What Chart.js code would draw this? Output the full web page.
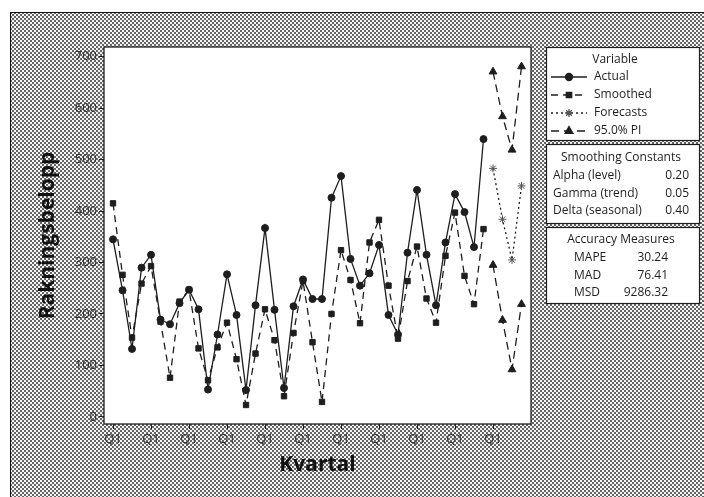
<!DOCTYPE html>
<html>
<head>
<meta charset="utf-8">
<script src="https://cdn.jsdelivr.net/npm/chart.js@4.4.0/dist/chart.umd.min.js"></script>
<style>
html, body { margin: 0; padding: 0; background: #fff; }
#wrap { position: relative; width: 704px; height: 497px; overflow: hidden; }
#frame {
    position: absolute; left: 10px; top: 12px; width: 720px; height: 510px;
    border-left: 1.5px solid #111; border-top: 1.5px solid #111;
    background-color: #f4f4f4;
    background-image: radial-gradient(circle, #4e4e4e 0.65px, transparent 1.05px),
                      radial-gradient(circle, #4e4e4e 0.65px, transparent 1.05px);
    background-size: 4px 4px;
    background-position: 0 0, 2px 2px;
}
canvas { position: absolute; left: 0; top: 0; }
</style>
</head>
<body>
<div id="wrap">
    <div id="frame"></div>
    <canvas id="chart" width="704" height="497"></canvas>
</div>
<script>
// quarterly data, starts at Q1
const actual = [345, 246, 132, 290, 315, 189, 180, 221, 247, 209, 53, 160, 277, 198, 52, 217, 367, 208, 56, 215,
                267, 229, 229, 426, 468, 307, 255, 279, 334, 198, 160, 319, 441, 315, 217, 339, 433, 398, 330, 540];
const smoothed = [415, 276, 154, 259, 293, 185, 76, 224, 247, 133, 71, 135, 183, 112, 23, 123, 209, 149, 40, 163,
                  264, 145, 29, 200, 324, 266, 182, 339, 383, 255, 152, 264, 331, 230, 183, 313, 397, 274, 219, 365];
const forecasts = [483, 384, 305, 449];
const upperPI = [671, 584, 519, 681];
const lowerPI = [295, 188, 92, 219];

const xTicks = [0, 4, 8, 12, 16, 20, 24, 28, 32, 36, 40];
const xTickLabel = 'Q1';
const yTicks = [0, 100, 200, 300, 400, 500, 600, 700];

const legendTitle = 'Variable';
const legendItems = ['Actual', 'Smoothed', 'Forecasts', '95.0% PI'];
const constTitle = 'Smoothing Constants';
const constLabels = ['Alpha (level)', 'Gamma (trend)', 'Delta (seasonal)'];
const constValues = ['0.20', '0.05', '0.40'];
const accTitle = 'Accuracy Measures';
const accLabels = ['MAPE', 'MAD', 'MSD'];
const accValues = ['30.24', '76.41', '9286.32'];

const FONT = '"Open Sans", "DejaVu Sans", sans-serif';
const INK = '#1e1e1e';

function toPoints(values, start) {
    return values.map((v, i) => ({ x: start + i, y: v }));
}

const fStart = actual.length;

const datasets = [
    { label: 'Actual', data: toPoints(actual, 0), borderDash: [], pointStyle: 'circle', pointRadius: 3.5 },
    { label: 'Smoothed', data: toPoints(smoothed, 0), borderDash: [7, 5], pointStyle: 'rect', pointRadius: 3.8 },
    { label: 'Forecasts', data: toPoints(forecasts, fStart), borderDash: [2, 3], pointStyle: 'star', pointRadius: 4 },
    { label: '95.0% PI', data: toPoints(upperPI, fStart), borderDash: [8, 5], pointStyle: 'triangle', pointRadius: 4.5 },
    { label: '95.0% PI lower', data: toPoints(lowerPI, fStart), borderDash: [8, 5], pointStyle: 'triangle', pointRadius: 4.5 }
].map(ds => Object.assign(ds, {
    borderColor: INK,
    backgroundColor: INK,
    pointBackgroundColor: ds.pointStyle === 'star' ? '#fff' : INK,
    pointBorderColor: ds.pointStyle === 'star' ? '#555' : INK,
    pointBorderWidth: 1,
    borderWidth: 1.3,
    tension: 0,
    fill: false
}));

function drawBox(ctx, x, y, w, h) {
    ctx.save();
    ctx.fillStyle = '#fff';
    ctx.fillRect(x, y, w, h);
    ctx.strokeStyle = INK;
    ctx.lineWidth = 1.2;
    ctx.setLineDash([]);
    ctx.strokeRect(x + 0.5, y + 0.5, w, h);
    ctx.restore();
}

const framePlugin = {
    id: 'framePlugin',
    beforeDraw(chart) {
        const { ctx, chartArea: a } = chart;
        ctx.save();
        ctx.fillStyle = '#fff';
        ctx.fillRect(a.left, a.top, a.right - a.left, a.bottom - a.top);
        ctx.restore();
    },
    afterDraw(chart) {
        const { ctx, chartArea: a } = chart;
        ctx.save();
        ctx.strokeStyle = INK;
        ctx.lineWidth = 1.3;
        ctx.strokeRect(a.left, a.top, a.right - a.left, a.bottom - a.top);
        ctx.restore();

        // legend box
        const bx = 546, bw = 153;
        drawBox(ctx, bx, 47, bw, 93);
        ctx.save();
        ctx.fillStyle = INK;
        ctx.textBaseline = 'middle';
        ctx.font = '12px ' + FONT;
        ctx.textAlign = 'center';
        ctx.fillText(legendTitle, 615, 60);
        legendItems.forEach((name, i) => {
            const ds = chart.data.datasets[i];
            const y = 77 + i * 18;
            ctx.save();
            ctx.strokeStyle = INK;
            ctx.lineWidth = 1.3;
            ctx.setLineDash(ds.borderDash);
            ctx.beginPath();
            ctx.moveTo(551, y);
            ctx.lineTo(587, y);
            ctx.stroke();
            ctx.setLineDash([]);
            ctx.fillStyle = ds.pointBackgroundColor;
            ctx.strokeStyle = ds.pointBorderColor;
            Chart.helpers.drawPoint(ctx, { pointStyle: ds.pointStyle, radius: ds.pointRadius, borderWidth: 1, rotation: 0 }, 569, y);
            ctx.restore();
            ctx.textAlign = 'left';
            ctx.fillText(name, 594, y);
        });
        ctx.restore();

        // smoothing constants box
        drawBox(ctx, bx, 144, bw, 79);
        ctx.save();
        ctx.fillStyle = INK;
        ctx.textBaseline = 'middle';
        ctx.font = '12px ' + FONT;
        ctx.textAlign = 'center';
        ctx.fillText(constTitle, 621, 158);
        constLabels.forEach((lab, i) => {
            const y = 176 + i * 17.5;
            ctx.textAlign = 'left';
            ctx.fillText(lab, 553, y);
            ctx.textAlign = 'right';
            ctx.fillText(constValues[i], 689, y);
        });
        ctx.restore();

        // accuracy box
        drawBox(ctx, bx, 227, bw, 76);
        ctx.save();
        ctx.fillStyle = INK;
        ctx.textBaseline = 'middle';
        ctx.font = '12px ' + FONT;
        ctx.textAlign = 'center';
        ctx.fillText(accTitle, 621, 240);
        accLabels.forEach((lab, i) => {
            const y = 258 + i * 17.5;
            ctx.textAlign = 'left';
            ctx.fillText(lab, 574, y);
            ctx.textAlign = 'right';
            ctx.fillText(accValues[i], 668, y);
        });
        ctx.restore();
    }
};

new Chart(document.getElementById('chart'), {
    type: 'line',
    data: { datasets },
    plugins: [framePlugin],
    options: {
        responsive: false,
        animation: false,
        layout: { padding: { left: 0, top: 47, right: 173, bottom: 0 } },
        plugins: { legend: { display: false }, tooltip: { enabled: false } },
        scales: {
            x: {
                type: 'linear',
                min: -0.95,
                max: 44,
                afterBuildTicks: s => { s.ticks = xTicks.map(v => ({ value: v })); },
                afterFit: s => { s.height = 73; },
                grid: { drawOnChartArea: false, drawTicks: true, tickLength: 5, color: INK },
                border: { display: false },
                ticks: { callback: () => xTickLabel, color: '#333', font: { family: FONT, size: 13 }, padding: 2, maxRotation: 0, autoSkip: false },
                title: { display: true, text: 'Kvartal', color: '#111', font: { family: FONT, size: 21, weight: 'bold' }, padding: { top: 0, bottom: 19 } }
            },
            y: {
                min: -14,
                max: 719,
                afterBuildTicks: s => { s.ticks = yTicks.map(v => ({ value: v })); },
                afterFit: s => { s.width = 104; },
                grid: { drawOnChartArea: false, drawTicks: true, tickLength: 5, color: INK },
                border: { display: false },
                ticks: { color: '#333', font: { family: FONT, size: 13 }, padding: 2 },
                title: { display: true, text: 'Rakningsbelopp', color: '#111', font: { family: FONT, size: 21, weight: 'bold' }, padding: { top: 35, bottom: 0 } }
            }
        }
    }
});
</script>
</body>
</html>
